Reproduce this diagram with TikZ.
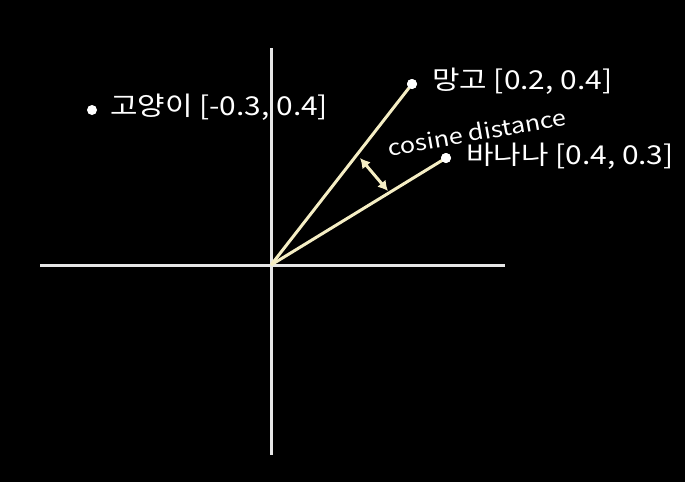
\documentclass[tikz,border=0pt]{standalone}
\usepackage{fontspec}
\setmainfont[FakeStretch=1.15]{Noto Sans CJK KR}
\usetikzlibrary{arrows.meta}
\definecolor{cream}{HTML}{F5EEC4}
\definecolor{axisgray}{HTML}{E6E6E6}
\begin{document}
\begin{tikzpicture}[x=1pt,y=-1pt,
  axis/.style={axisgray,line width=3pt},
  vec/.style={cream,line width=3pt},
  dot/.style={circle,fill=white,inner sep=0pt,minimum size=10pt},
  lbl/.style={white,font=\fontsize{26}{30}\selectfont,anchor=west,inner sep=0pt},
  darrow/.style={cream,line width=3pt,{Latex[length=10pt,width=11pt]}-{Latex[length=10pt,width=11pt]}}]
\fill[black] (0,0) rectangle (685,482);
\useasboundingbox (0,0) rectangle (685,482);
\coordinate (O) at (271,265);
\coordinate (L) at (40,265);
\coordinate (R) at (505,265);
\coordinate (T) at (271,48);
\coordinate (B) at (271,455);
\draw[axis] (L) -- (R);
\draw[axis] (T) -- (B);
\node[dot] (mango) at (412,84) {};
\node[dot] (banana) at (446,158) {};
\node[dot] (cat) at (92,110) {};
\draw[vec] (O) -- (mango.center);
\draw[vec] (O) -- (banana.center);
\node[dot] at (412,84) {};
\node[dot] at (446,158) {};
\node[lbl] (mangol) at (432,81) {망고 [0.2, 0.4]};
\node[lbl] (bananal) at (466,156) {바나나 [0.4, 0.3]};
\node[lbl] (catl) at (110,107) {고양이 [-0.3, 0.4]};
\node[white,font=\fontsize{22}{26}\selectfont,rotate=10,inner sep=0pt] (cd) at (477,132) {cosine distance};
\coordinate (a1) at (360,158);
\coordinate (a2) at (388,191);
\draw[darrow] (a1) -- (a2);
\end{tikzpicture}
\end{document}
